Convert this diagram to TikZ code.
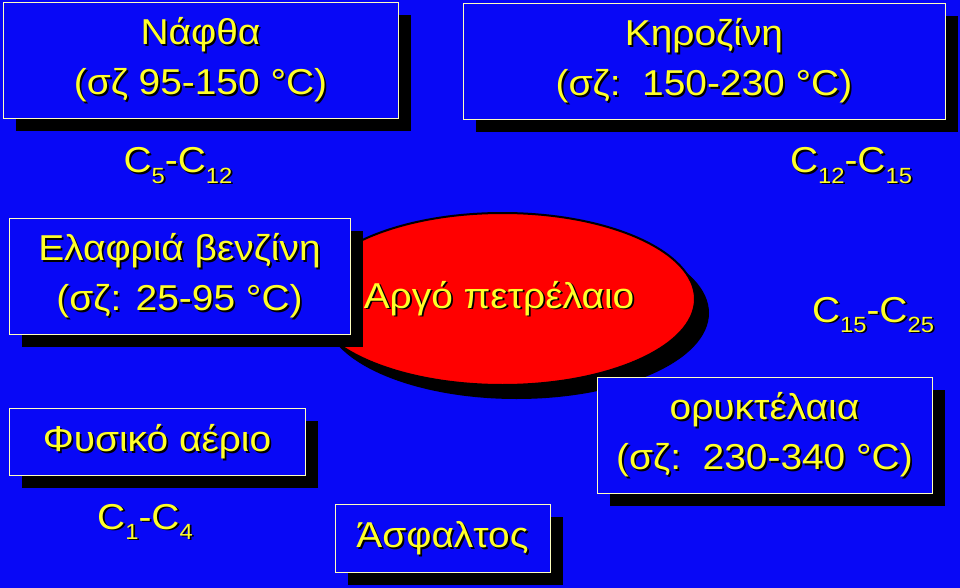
\documentclass[tikz,border=0pt]{standalone}
\usepackage{fontspec}
\setmainfont{Liberation Sans}[FakeStretch=1.08]
\usetikzlibrary{calc,shadows,shapes.geometric}
\definecolor{bgblue}{RGB}{8,8,246}
\definecolor{paleyellow}{RGB}{255,255,190}
\definecolor{txtyellow}{RGB}{255,255,40}
\tikzset{
	box/.style={draw=paleyellow, fill=bgblue, line width=0.9pt, inner sep=0pt,
		drop shadow={shadow xshift=13pt, shadow yshift=-13pt, fill=black, opacity=1}},
	txt/.style={text=txtyellow, align=center, inner sep=0pt, font=\fontsize{36}{50}\selectfont},
}
\def\shtext[#1](#2)(#3)#4{\node[txt, text=black, #1] at ($(#3)+(1.8,1.8)$) {#4}; \node[txt, #1] (#2) at (#3) {#4};}
\newcommand\sub[1]{\raisebox{-0.28em}{\fontsize{22}{22}\selectfont #1}}
\newcommand\cc[2]{C\sub{#1}-C\sub{#2}}

\begin{document}
\begin{tikzpicture}[x=1pt, y=-1pt]
		%%%%% background %%%%%
		\fill[bgblue] (0, 0) rectangle (960, 588);
		\useasboundingbox (0, 0) rectangle (960, 588);
		
		%%%%% crude oil %%%%%
		\node[ellipse, draw=black, line width=2pt, fill=red, minimum width=385pt, minimum height=172pt, inner sep=0pt,
			drop shadow={shadow xshift=14pt, shadow yshift=-14pt, fill=black, opacity=1}] (crude) at (502.5, 299) {};
		\shtext[anchor=base](crudeT)(499, 308){Αργό πετρέλαιο}
		
		%%%%% boxes %%%%%
		\node[box, minimum width=395pt, minimum height=116pt] (naftha) at (200.5, 60) {};
		\node[box, minimum width=482pt, minimum height=116pt] (kero) at (704, 61) {};
		\node[box, minimum width=341pt, minimum height=116pt] (elafria) at (179.5, 276) {};
		\node[box, minimum width=296pt, minimum height=67pt] (fysiko) at (157, 441.5) {};
		\node[box, minimum width=215pt, minimum height=68pt] (asfaltos) at (442.5, 538) {};
		\node[box, minimum width=335pt, minimum height=116pt] (orykt) at (764.5, 435) {};
		
		\shtext[](nafthaT)(naftha.center){Νάφθα\\(σζ 95-150 °C)}
		\shtext[](keroT)(kero.center){Κηροζίνη\\(σζ:\ \ 150-230 °C)}
		\shtext[](elafriaT)(elafria.center){Ελαφριά βενζίνη\\(σζ: 25-95 °C)}
		\shtext[](fysikoT)(fysiko.center){Φυσικό αέριο}
		\shtext[](asfaltosT)(asfaltos.center){Άσφαλτος}
		\shtext[](oryktT)(orykt.center){ορυκτέλαια\\(σζ:\ \ 230-340 °C)}
		
		%%%%% carbon ranges %%%%%
		\shtext[anchor=base](c512)(178, 173){\cc{5}{12}}
		\shtext[anchor=base](c1215)(851, 173){\cc{12}{15}}
		\shtext[anchor=base](c1525)(873, 322){\cc{15}{25}}
		\shtext[anchor=base](c14)(145, 529){\cc{1}{4}}
		
		%%%%% END %%%%%
	\end{tikzpicture}
\end{document}
